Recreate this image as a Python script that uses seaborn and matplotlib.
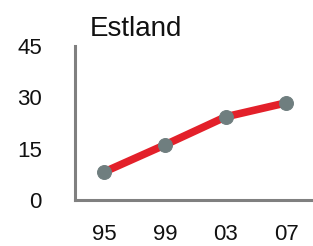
import seaborn as sns
import matplotlib.pyplot as plt
import pandas as pd

# data
years = ['95', '99', '03', '07']
values = [8.2, 16.1, 24.3, 28.4]
yticks = [0, 15, 30, 45]

df = pd.DataFrame({'year': range(len(years)), 'value': values})

sns.set_style('white')
plt.rcParams['font.family'] = ['Liberation Sans', 'DejaVu Sans']

fig = plt.figure(figsize=(3.13, 2.46), dpi=100)
ax = fig.add_axes([0.24, 0.187, 0.76, 0.626])

sns.lineplot(data=df, x='year', y='value', ax=ax, color='#e3202a', linewidth=5.5,
             marker='o', markersize=10, markerfacecolor='#6f7e7f',
             markeredgecolor='#6f7e7f')

ax.set_xlim(-0.48, 3.44)
ax.set_ylim(0, 45)
ax.set_xticks(range(len(years)))
ax.set_xticklabels(years)
ax.set_yticks(yticks)
ax.set_xlabel('')
ax.set_ylabel('')
ax.tick_params(axis='x', length=0, pad=17, labelsize=16, labelcolor='#111111')
ax.tick_params(axis='y', length=5, width=2, color='#808080', pad=19, labelsize=16,
               labelcolor='#111111')
for s in ['top', 'right']:
    ax.spines[s].set_visible(False)
for s in ['left', 'bottom']:
    ax.spines[s].set_color('#808080')
    ax.spines[s].set_linewidth(2.2)
ax.set_title('Estland', fontsize=20, loc='left', x=0.06, pad=7, color='#111111')

fig.savefig('out.png', dpi=100)
